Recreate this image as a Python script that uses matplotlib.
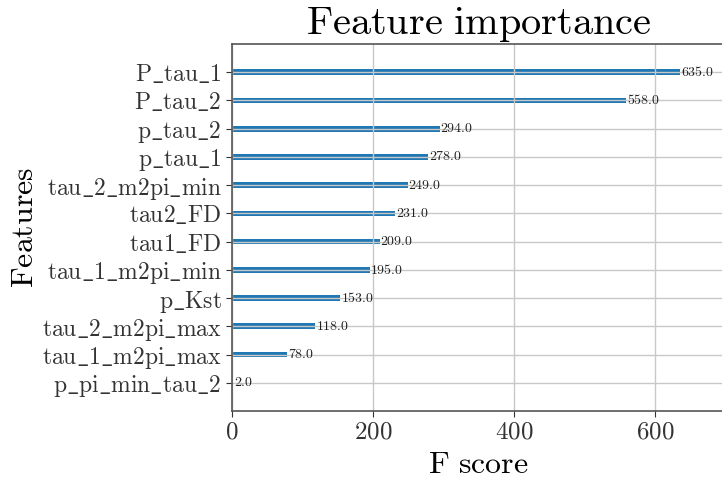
import numpy as np
import matplotlib
matplotlib.use("Agg")
import matplotlib.pyplot as plt

plt.rcParams['mathtext.fontset'] = 'cm'
plt.rcParams['font.family'] = 'serif'
plt.rcParams['font.serif'] = ['cmr10', 'DejaVu Serif']
plt.rcParams['axes.formatter.use_mathtext'] = True

# feature importance (F score), lowest first so the biggest ends up on top
features = ['p_pi_min_tau_2', 'tau_1_m2pi_max', 'tau_2_m2pi_max', 'p_Kst',
            'tau_1_m2pi_min', 'tau1_FD', 'tau2_FD', 'tau_2_m2pi_min',
            'p_tau_1', 'p_tau_2', 'P_tau_2', 'P_tau_1']
scores = [2.0, 78.0, 118.0, 153.0, 195.0, 209.0, 231.0, 249.0,
          278.0, 294.0, 558.0, 635.0]


def tex(s):
    # latex-style roman text with escaped underscores
    return r'$\mathrm{' + s.replace('_', r'\_').replace(' ', r'\ ') + '}$'


fig = plt.figure(figsize=(7.22, 4.78), dpi=100)
ax = fig.add_axes([232/722, 67/478, 493/722, 367/478])

ylocs = np.arange(len(scores))
ax.barh(ylocs, scores, align='center', height=0.2, color='#1f77b4')
for x, y in zip(scores, ylocs):
    ax.text(x + 1, y, tex(str(x)), va='center', fontsize=10, color='#222222')

ax.set_yticks(ylocs)
ax.set_yticklabels([tex(f) for f in features], fontsize=17)
ax.set_xticks([0, 200, 400, 600])
ax.set_xticklabels([tex(str(t)) for t in [0, 200, 400, 600]], fontsize=18)
ax.set_xlim(0, max(scores) * 1.1)
ax.set_ylim(-1, len(scores))
ax.grid(True, color='#c8c8c8', linewidth=1.0)

for sp in ax.spines.values():
    sp.set_color('#555555')
    sp.set_linewidth(1.2)
ax.tick_params(colors='#333333', length=4)

ax.set_title(tex('Feature importance'), fontsize=29, pad=4)
ax.set_xlabel(tex('F score'), fontsize=23, labelpad=6)
ax.set_ylabel(tex('Features'), fontsize=23, labelpad=2)

fig.savefig('out.png', dpi=100)
